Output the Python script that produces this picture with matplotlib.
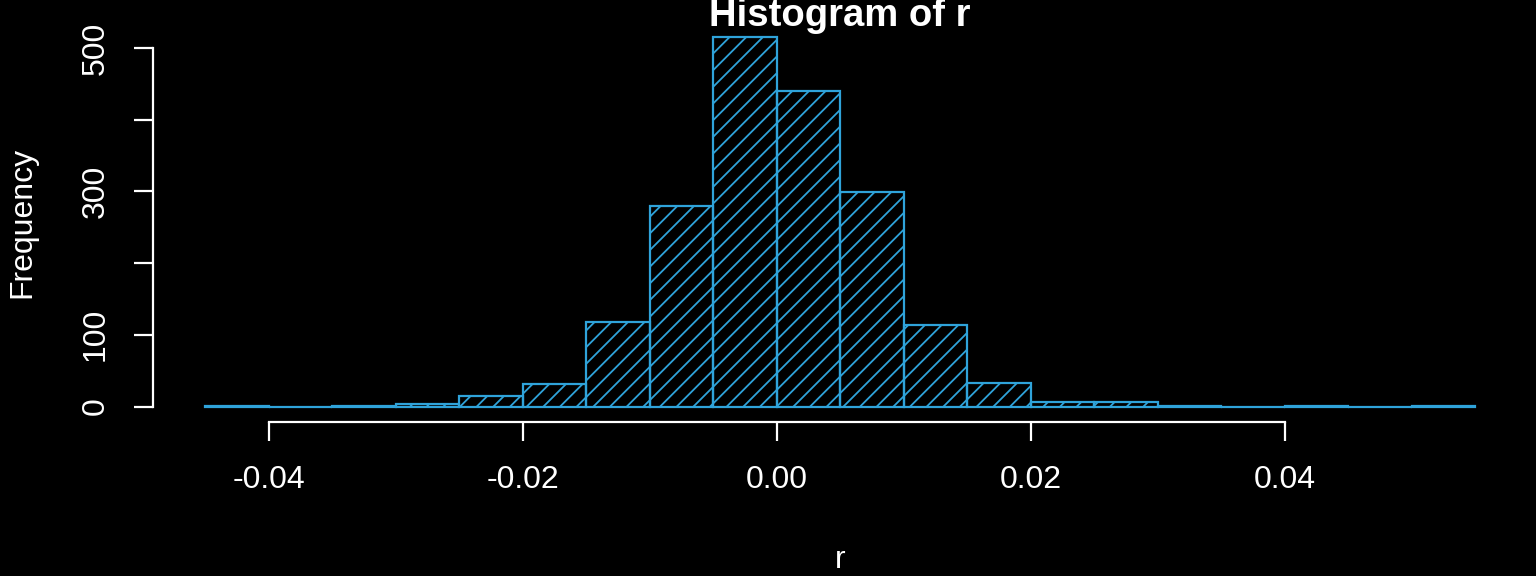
import matplotlib
matplotlib.use("Agg")
import matplotlib.pyplot as plt
import numpy as np

# Data
bin_edges = [-0.045, -0.040, -0.035, -0.030, -0.025, -0.020, -0.015, -0.010, -0.005,
             0.000, 0.005, 0.010, 0.015, 0.020, 0.025, 0.030, 0.035, 0.040, 0.045,
             0.050, 0.055]
counts = [1, 0, 1, 4, 14, 31, 118, 280, 515, 440, 299, 114, 33, 7, 6, 1, 0, 1, 0, 1]
x_ticks = [-0.04, -0.02, 0.00, 0.02, 0.04]
x_tick_labels = ["-0.04", "-0.02", "0.00", "0.02", "0.04"]
y_ticks = [0, 100, 200, 300, 400, 500]
y_tick_labels = ["0", "100", "", "300", "", "500"]

plt.rcParams['font.family'] = ['Liberation Sans', 'DejaVu Sans']
plt.rcParams['hatch.linewidth'] = 1.3

W, H = 1536, 576
fig = plt.figure(figsize=(W / 100, H / 100), dpi=100, facecolor='black')
left_px, right_px, top_px, bot_px = 154.7, 1526.0, 22.5, 421.3
ax = fig.add_axes([left_px / W, 1 - bot_px / H, (right_px - left_px) / W, (bot_px - top_px) / H])
ax.set_facecolor('black')

col = '#2FA3DA'
edges = np.array(bin_edges)
widths = np.diff(edges)
ax.bar(edges[:-1], counts, width=widths, align='edge', facecolor='none',
       edgecolor=col, hatch='//', linewidth=1.6)

ax.set_xlim(-0.049, 0.059)
ax.set_ylim(-20.6, 535.6)

for s in ['top', 'right']:
    ax.spines[s].set_visible(False)
for s in ['left', 'bottom']:
    ax.spines[s].set_color('white')
    ax.spines[s].set_linewidth(1.6)
ax.spines['left'].set_position(('outward', 1.5))
ax.spines['bottom'].set_position(('outward', 0.7))
ax.spines['left'].set_bounds(0, 500)
ax.spines['bottom'].set_bounds(-0.04, 0.04)

ax.set_xticks(x_ticks)
ax.set_xticklabels(x_tick_labels)
ax.set_yticks(y_ticks)
ax.set_yticklabels(y_tick_labels, rotation=90, va='center')
ax.tick_params(axis='both', colors='white', labelsize=23, length=14, width=1.6)
ax.tick_params(axis='x', pad=17)
ax.tick_params(axis='y', pad=16)

fig.text(840 / W, 1 - 560 / H, 'r', color='white', fontsize=23, ha='center', va='center')
fig.text(22 / W, 1 - 222 / H, 'Frequency', color='white', fontsize=23, ha='center',
         va='center', rotation=90)
fig.text(840 / W, 1 - 26 / H, 'Histogram of r', color='white', fontsize=27.5,
         fontweight='bold', ha='center', va='baseline')

fig.savefig('out.png', dpi=100, facecolor='black')
